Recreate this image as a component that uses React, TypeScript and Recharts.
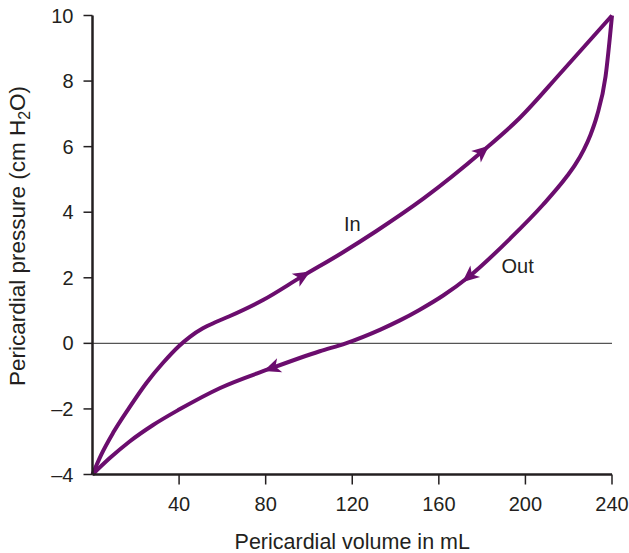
import { LineChart, Line, XAxis, YAxis, ReferenceLine, ReferenceDot } from 'recharts'

const PURPLE = '#6b0d6e'
const INK = '#231f20'
const FONT = '"Liberation Sans", Arial, Helvetica, sans-serif'

// filling ("In") limb, volume in mL / pressure in cm H2O
const inVolume = [0, 4, 9.5, 17, 25, 32.5, 40, 45, 51, 57, 63, 79, 97, 115, 131, 153, 180, 197, 217, 240]
const inPressure = [-4, -3.4, -2.73, -1.96, -1.2, -0.6, -0.08, 0.2, 0.46, 0.65, 0.82, 1.33, 2.05, 2.75, 3.42, 4.42, 5.85, 6.85, 8.3, 10]
const inArrowAt = [97, 180]

// emptying ("Out") limb
const outVolume = [0, 8, 17, 28, 40, 59, 83, 105, 117, 133, 142, 151, 162, 174, 193, 208, 219, 223, 227, 230, 233, 237, 240]
const outPressure = [-4, -3.5, -3.0, -2.49, -2.02, -1.36, -0.75, -0.24, 0, 0.42, 0.7, 1.02, 1.46, 2.04, 3.2, 4.22, 5.08, 5.45, 5.91, 6.35, 6.93, 8.13, 10]
const outArrowAt = [83, 174]

const xTicks = [40, 80, 120, 160, 200, 240]
const yTicks = [-4, -2, 0, 2, 4, 6, 8, 10]

const inData = inVolume.map((v, i) => ({ volume: v, pressure: inPressure[i] }))
const outData = outVolume.map((v, i) => ({ volume: v, pressure: outPressure[i] }))

const tickStyle = { fontFamily: FONT, fontSize: 20, fill: INK }

function arrowDot(arrowAt: number[], reverse: boolean) {
  return (props: any) => {
    const { cx, cy, index, payload, points } = props
    if (!arrowAt.includes(payload?.volume) || !points) return <g key={`d-${index}`} />
    const prev = points[Math.max(index - 1, 0)]
    const next = points[Math.min(index + 1, points.length - 1)]
    let angle = (Math.atan2(next.y - prev.y, next.x - prev.x) * 180) / Math.PI
    if (reverse) angle += 180
    return (
      <path
        key={`d-${index}`}
        d="M9 0 L-8 -7.5 L-3.5 0 L-8 7.5 Z"
        transform={`translate(${cx},${cy}) rotate(${angle})`}
        fill={PURPLE}
      />
    )
  }
}

function YLabel({ viewBox }: any) {
  const x = viewBox.x + 25
  const y = viewBox.y + viewBox.height / 2 - 9
  return (
    <text
      x={x}
      y={y}
      transform={`rotate(-90, ${x}, ${y})`}
      textAnchor="middle"
      fontFamily={FONT}
      fontSize={22.5}
      fill={INK}
    >
      Pericardial pressure (cm H
      <tspan fontSize={16} dy={5}>2</tspan>
      <tspan dy={-5}>O)</tspan>
    </text>
  )
}

function XLabel({ viewBox }: any) {
  return (
    <text
      x={viewBox.x + viewBox.width / 2}
      y={549}
      textAnchor="middle"
      fontFamily={FONT}
      fontSize={21.5}
      fill={INK}
    >
      Pericardial volume in mL
    </text>
  )
}

const textLabel = (value: string) => (p: any) => (
  <text x={p.cx} y={p.cy} textAnchor="middle" dominantBaseline="central" fontFamily={FONT} fontSize={20} fill={INK}>
    {value}
  </text>
)

export default function App() {
  return (
    <div style={{ position: 'absolute', left: 0, top: 0 }}>
      <LineChart width={629} height={553} margin={{ top: 15.5, right: 17, left: 0, bottom: 0 }}>
        <XAxis
          type="number"
          dataKey="volume"
          domain={[0, 240]}
          ticks={xTicks}
          height={78.5}
          tick={tickStyle}
          tickSize={10}
          tickMargin={12}
          axisLine={{ stroke: INK, strokeWidth: 2.5 }}
          tickLine={{ stroke: INK, strokeWidth: 1.5 }}
          label={<XLabel />}
          allowDuplicatedCategory={false}
        />
        <YAxis
          type="number"
          dataKey="pressure"
          domain={[-4, 10]}
          ticks={yTicks}
          width={92.5}
          tick={tickStyle}
          tickSize={9}
          tickMargin={10}
          tickFormatter={(v: number) => (v < 0 ? `\u2013${-v}` : `${v}`)}
          axisLine={{ stroke: INK, strokeWidth: 2.5 }}
          tickLine={{ stroke: INK, strokeWidth: 1.5 }}
          label={<YLabel />}
        />
        <ReferenceLine y={0} stroke="#555" strokeWidth={1.2} />
        <Line
          data={inData}
          dataKey="pressure"
          type="monotone"
          stroke={PURPLE}
          strokeWidth={4}
          dot={arrowDot(inArrowAt, false)}
          activeDot={false}
          isAnimationActive={false}
        />
        <Line
          data={outData}
          dataKey="pressure"
          type="monotone"
          stroke={PURPLE}
          strokeWidth={4}
          dot={arrowDot(outArrowAt, true)}
          activeDot={false}
          isAnimationActive={false}
        />
        <ReferenceDot x={120} y={3.65} r={0} shape={textLabel('In')} />
        <ReferenceDot x={196.4} y={2.35} r={0} shape={textLabel('Out')} />
      </LineChart>
    </div>
  )
}
